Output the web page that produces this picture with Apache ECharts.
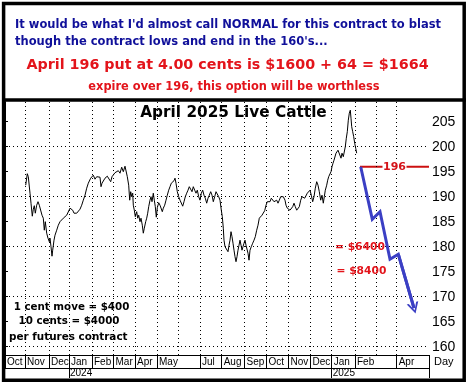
<!DOCTYPE html>
<html>
<head>
<meta charset="utf-8">
<script src="https://cdn.jsdelivr.net/npm/echarts@6/dist/echarts.min.js"></script>
<style>html,body{margin:0;padding:0;background:#fff;}#c{width:469px;height:385px;}</style>
</head>
<body>
<div id="c"></div>
<script>
// ---- data ----
// trading-day index (from start of Oct 2023) and April 2025 live cattle price
var dayIdx = [20.7,22.3,23.3,25,26,27.3,28.3,29.3,30.3,31.7,33,34.3,35.7,37,38.3,39.3,40.3,41.7,43,44.3,45,46,47,47.7,49,50,51.7,53.3,55,56.7,58.3,60,61.7,63.3,65,66.3,67.7,69,70.3,71.7,73.3,75,76.7,78.3,80,81.7,83.3,84.3,85.7,87,88.3,90,91.7,93.3,95,96,97,98.3,100,101,102.3,103.3,104.3,105.7,107,108.3,110,111.7,113.3,115,116.7,118.3,120,121,122.3,123.7,124.7,125.7,126.7,127.7,128.3,129.3,130.3,131.7,132.7,133.7,135,136,137.3,138.3,139.3,140.7,141.7,142.7,143.7,145,146,147,148.3,149.3,150.3,151.3,152.3,153.7,155,156,157.3,158.3,159.7,161,162.3,163.7,165,166.3,167.7,169,170,171,172.3,173.7,175,176.3,177.7,179,180.3,181.7,183,184.3,185.7,187,188.3,189.7,191,192.3,193.7,195,196.3,197.7,199,200.3,201.7,203,204.3,205.7,207,208.3,209.7,211,212.3,213.7,215,216.3,217.3,218.3,219,220,221,222,223,224,225,226,227,228,229,230,231,232,233,234,235,236,237,238,239,240,241,242,243,244,245,246.3,247.7,249,250.3,251.7,253,254.3,255.7,257,258.3,259.7,261,262.3,263.7,265,266.3,267.7,269,270.3,271.7,273,274.3,275.7,277,278.3,280,281,282.3,283.7,285,286.3,287.7,289,290.3,291.7,293,294.3,295.7,297,298.3,299.7,301,302.3,303.7,305,306.3,307.7,309,310.3,311.7,313,314.3,315.7,317,318.3,319.3,320.3,321.7,322.7,323.7,325,326,327,328,329,330,331,332,333,334,335,336,337,338.3,339.3,340.3,341.3,342.3,343.3,344.3,345.3,346,346.7,347.7,348.7,349.7,350.7,351.7];
var prices = [192.3,194.6,194.0,190.7,188.7,186.1,187.5,188.2,186.7,188.3,189.0,188.3,188.5,186.3,185.7,183.3,185.0,182.7,181.7,181.0,181.7,180.0,178.1,179.3,181.3,182.3,183.3,184.3,185.0,185.3,185.7,186.0,186.3,186.7,187.7,188.1,187.3,186.7,186.3,186.7,187.0,187.5,188.3,189.3,190.3,191.7,192.7,193.0,193.7,194.1,194.3,193.5,194.0,194.1,193.9,192.0,192.7,193.0,193.7,194.0,194.1,193.7,194.5,193.0,194.0,194.3,194.8,194.5,195.2,194.7,195.9,195.0,196.1,195.7,194.0,192.3,189.3,191.0,190.0,190.7,188.3,187.3,186.0,187.0,185.7,186.3,185.0,185.7,184.3,182.7,183.7,185.0,185.7,186.7,188.0,189.3,190.0,189.0,190.7,189.3,188.0,185.9,187.8,188.8,188.3,188.0,187.0,187.7,188.3,189.3,190.3,191.3,192.0,192.7,193.0,193.2,193.7,192.7,191.0,190.0,189.3,189.7,188.1,189.0,190.0,190.7,191.3,192.0,191.7,191.0,192.0,191.3,190.7,191.3,190.0,189.3,190.7,191.3,190.3,189.7,188.7,189.7,190.3,191.0,190.3,189.0,190.0,191.0,190.7,190.0,189.3,187.3,186.0,183.7,181.3,180.0,179.7,180.0,179.0,180.3,181.3,183.0,182.0,180.7,179.3,178.0,177.0,178.0,179.3,180.3,181.3,180.3,179.3,180.0,180.7,181.3,180.3,180.0,178.7,177.3,179.3,180.0,180.7,181.3,182.0,183.3,184.3,185.7,186.0,186.3,186.7,187.2,188.3,189.0,189.3,189.0,189.7,189.3,189.0,188.7,189.3,188.7,189.3,190.0,190.3,190.0,189.3,188.3,187.7,188.0,187.3,187.0,188.0,188.7,188.0,187.3,187.7,188.0,189.3,190.0,190.3,189.7,190.0,190.7,191.0,191.3,190.3,189.0,190.0,191.7,193.0,192.3,191.0,189.3,190.3,188.7,190.0,191.3,192.3,193.3,194.0,194.3,195.0,196.0,196.7,197.3,197.7,198.7,198.3,199.3,199.0,199.7,197.7,198.7,198.0,197.7,200.0,201.7,203.0,205.3,206.7,207.3,205.7,204.0,203.0,202.0,200.7,199.7,198.7];

// projected path (blue arrow)
var projDays = [355.7,367.3,375,385,393.3,409];
var projPrices = [196,185.5,187,177.5,178.5,167.7];

// strike line
var strikePrice = 196;
var strikeDays = [355,424];
var strikeLabelDay = 389.5;

// month boundaries (trading-day index) and labels
var monthStarts = [0,20,44,64,87,108.5,130,152,173.3,195,216.7,239.5,261.5,283.5,305.5,326.7,350,371.5,391.7];
var monthNames  = ['Oct','Nov','Dec','Jan','Feb','Mar','Apr','May','','Jul','Aug','Sep','Oct','Nov','Dec','Jan','Feb','','Apr'];
var yearStarts = [64,326.7];
var yearNames = ['2024','2025'];
var lastDay = 424;

// y axis
var yMin = 158.34, yMax = 209;
var yTicks = [160,165,170,175,180,185,190,195,200,205];
var yGrid = [160,170,180,190,200];

// ---- build ----
var priceData = dayIdx.map(function(d,i){return [d, prices[i]];});
var projData = projDays.map(function(d,i){return [d, projPrices[i]];});
var labelledStarts = [], labelledNames = {};
monthStarts.forEach(function(v,i){ if(monthNames[i]){ labelledStarts.push(v); labelledNames[v]=monthNames[i]; } });
var yearMap = {}; yearStarts.forEach(function(v,i){ yearMap[v]=yearNames[i]; });

var dotted = {color:'#000', width:1, type:[1,3]};
var gridMarks = [];
yGrid.forEach(function(v){ gridMarks.push({yAxis:v}); });
monthStarts.forEach(function(v){ if(v>0) gridMarks.push({xAxis:v}); });

var BLUE='#10109a', RED='#e3141b';
var chart = echarts.init(document.getElementById('c'), null, {renderer:'canvas'});
chart.setOption({
  animation:false,
  backgroundColor:'#fff',
  grid:{left:5, right:40, top:101.7, bottom:30, containLabel:false},
  xAxis:[{
    type:'value', min:0, max:lastDay, position:'bottom',
    axisLine:{show:true, lineStyle:{color:'#000', width:1}},
    axisTick:{show:true, inside:false, length:13, customValues: labelledStarts.concat([lastDay]), lineStyle:{color:'#000'}},
    axisLabel:{show:true, customValues: labelledStarts, align:'left', margin:2, padding:[0,0,0,2],
      fontFamily:'Liberation Sans', fontSize:10, color:'#000',
      formatter:function(v){ return labelledNames[v] || ''; }},
    splitLine:{show:false},
    name:'Day', nameLocation:'end', nameGap:5,
    nameTextStyle:{fontFamily:'Liberation Sans', fontSize:11, color:'#000', verticalAlign:'top', padding:[1,0,0,0]}
  },{
    type:'value', min:0, max:lastDay, position:'bottom', offset:13,
    axisLine:{show:true, lineStyle:{color:'#000', width:1}},
    axisTick:{show:true, inside:false, length:10, customValues: yearStarts.concat([lastDay]), lineStyle:{color:'#000'}},
    axisLabel:{show:true, customValues: yearStarts, align:'left', margin:0, padding:[0,0,0,1],
      fontFamily:'Liberation Sans', fontSize:10, color:'#000',
      formatter:function(v){ return yearMap[v] || ''; }},
    splitLine:{show:false}
  }],
  yAxis:{
    type:'value', min:yMin, max:yMax, position:'right',
    axisLine:{show:true, lineStyle:{color:'#000', width:1}},
    axisTick:{show:true, inside:false, length:3, customValues:yTicks, lineStyle:{color:'#000'}},
    axisLabel:{show:true, customValues:yTicks, margin:3, fontFamily:'Liberation Sans', fontSize:14, color:'#000'},
    splitLine:{show:false}
  },
  series:[{
    type:'line', data:[], xAxisIndex:0, silent:true, z:1,
    markLine:{silent:true, symbol:['none','none'], label:{show:false}, lineStyle:dotted, data:gridMarks}
  },{
    type:'line', data:priceData, xAxisIndex:0, showSymbol:false, symbol:'none', z:3,
    lineStyle:{color:'#000', width:1}, silent:true
  },{
    type:'line', data:strikeDays.map(function(d){return [d, strikePrice];}), showSymbol:false, symbol:'none', z:4,
    lineStyle:{color:'#cc1010', width:2}, silent:true,
    markPoint:{silent:true, symbol:'rect', symbolSize:[24,12], itemStyle:{color:'#fff'},
      label:{show:true, position:'inside', formatter:String(strikePrice), color:'#d4141a',
        fontFamily:'DejaVu Sans', fontWeight:'bold', fontSize:11},
      data:[{coord:[strikeLabelDay, strikePrice]}]}
  },{
    type:'line', data:projData, showSymbol:false, symbol:'none', z:5,
    lineStyle:{color:'#3b3fc4', width:3, join:'miter'}, silent:true,
    markLine:{silent:true, symbol:['none','path://M5,0 L10,10 L8.2,10 L5,3 L1.8,10 L0,10 Z'], symbolSize:[12,11],
      label:{show:false}, lineStyle:{color:'#3b3fc4', width:3, type:'solid'},
      data:[[{coord:projData[projData.length-2]},{coord:projData[projData.length-1]}]]}
  }],
  graphic:[
    {type:'text', z:100, style:{text:"It would be what I'd almost call NORMAL for this contract to blast", x:15, y:25, fill:BLUE, font:'bold 11.5px "DejaVu Sans"', textAlign:'left', textVerticalAlign:'middle'}},
    {type:'text', z:100, style:{text:"though the contract lows and end in the 160's...", x:15, y:42.5, fill:BLUE, font:'bold 11.5px "DejaVu Sans"', textAlign:'left', textVerticalAlign:'middle'}},
    {type:'text', z:100, style:{text:"April 196 put at 4.00 cents is $1600 + 64 = $1664", x:227.5, y:65.5, fill:RED, font:'bold 14.3px "DejaVu Sans"', textAlign:'center', textVerticalAlign:'middle'}},
    {type:'text', z:100, style:{text:"expire over 196, this option will be worthless", x:234, y:87, fill:RED, font:'bold 11.4px "DejaVu Sans"', textAlign:'center', textVerticalAlign:'middle'}},
    {type:'text', z:100, style:{text:"April 2025 Live Cattle", x:233.5, y:113.5, fill:'#000', font:'bold 15.3px "DejaVu Sans"', textAlign:'center', textVerticalAlign:'middle'}},
    {type:'text', z:100, style:{text:"= $6400", x:335, y:247, fill:RED, font:'bold 10.7px "DejaVu Sans"', textAlign:'left', textVerticalAlign:'middle'}},
    {type:'text', z:100, style:{text:"= $8400", x:336.5, y:271.7, fill:RED, font:'bold 10.7px "DejaVu Sans"', textAlign:'left', textVerticalAlign:'middle'}},
    {type:'text', z:100, style:{text:"1 cent move = $400", x:71.5, y:307.3, fill:'#000', font:'bold 10.3px "DejaVu Sans"', textAlign:'center', textVerticalAlign:'middle'}},
    {type:'text', z:100, style:{text:"10 cents = $4000", x:69, y:321.7, fill:'#000', font:'bold 10.3px "DejaVu Sans"', textAlign:'center', textVerticalAlign:'middle'}},
    {type:'text', z:100, style:{text:"per futures contract", x:68.3, y:337.7, fill:'#000', font:'bold 10.4px "DejaVu Sans"', textAlign:'center', textVerticalAlign:'middle'}},
    {type:'line', z:101, shape:{x1:2, y1:100, x2:466, y2:100}, style:{stroke:'#000', lineWidth:3.4}},
    {type:'rect', z:102, shape:{x:3.6, y:3.6, width:460.6, height:376.6}, style:{fill:'none', stroke:'#000', lineWidth:3.5}}
  ]
});
</script>
</body>
</html>
